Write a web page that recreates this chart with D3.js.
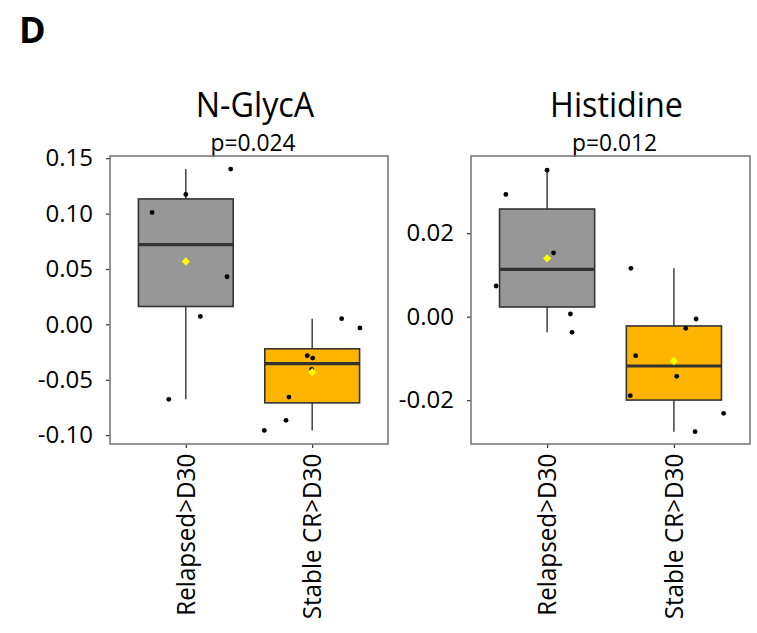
<!DOCTYPE html>
<html>
<head>
<meta charset="utf-8">
<script src="https://cdn.jsdelivr.net/npm/d3@7"></script>
<style>
  html, body { margin: 0; padding: 0; background: #fff; }
  svg { display: block; font-family: "Open Sans", "Noto Sans", sans-serif; }
</style>
</head>
<body>
<svg id="chart" width="757" height="633"></svg>
<script>
// Groups on the x axis
const groups = ["Relapsed>D30", "Stable CR>D30"];
const groupColors = ["#979797", "#FFB400"];

// N-GlycA values per group, with horizontal jitter (in category units)
const nglycaRelapsed = [0.1011, 0.1173, 0.1402, 0.0430, 0.0072, -0.0677];
const nglycaRelapsedJitter = [-0.267, 0.000, 0.355, 0.326, 0.115, -0.135];
const nglycaStable = [0.0051, -0.0033, -0.0283, -0.0304, -0.0406, -0.0656, -0.0866, -0.0957];
const nglycaStableJitter = [0.233, 0.378, -0.039, 0.004, -0.004, -0.184, -0.207, -0.379];

// Histidine values per group, with horizontal jitter
const histRelapsed = [0.0351, 0.0293, 0.0153, 0.00735, 0.00065, -0.00374];
const histRelapsedJitter = [0.000, -0.325, 0.051, -0.402, 0.184, 0.197];
const histStable = [0.01159, -0.00055, -0.00278, -0.00934, -0.01428, -0.01892, -0.02314, -0.02754];
const histStableJitter = [-0.339, 0.175, 0.093, -0.302, 0.022, -0.344, 0.392, 0.167];

// Axis ticks
const nglycaTicks = [0.15, 0.10, 0.05, 0.00, -0.05, -0.10];
const histTicks = [0.02, 0.00, -0.02];

// Panel titles and test results
const titles = ["N-GlycA", "Histidine"];
const pLabels = ["p=0.024", "p=0.012"];

const panels = [
  { title: titles[0], p: pLabels[0], x0: 110, x1: 388, domain: [-0.108, 0.152], ticks: nglycaTicks,
    series: [[nglycaRelapsed, nglycaRelapsedJitter], [nglycaStable, nglycaStableJitter]] },
  { title: titles[1], p: pLabels[1], x0: 471, x1: 750, domain: [-0.0305, 0.0385], ticks: histTicks,
    series: [[histRelapsed, histRelapsedJitter], [histStable, histStableJitter]] }
];

const svg = d3.select("#chart");
const panelTop = 156, panelBottom = 444;
const ink = "#333333";

svg.append("text")
  .attr("x", 19).attr("y", 43)
  .attr("font-size", 36).attr("font-weight", 700)
  .attr("fill", "#000")
  .text("D");

function boxStats(values) {
  const s = values.slice().sort(d3.ascending);
  const q1 = d3.quantile(s, 0.25), med = d3.quantile(s, 0.5), q3 = d3.quantile(s, 0.75);
  const iqr = q3 - q1;
  const lo = d3.min(s.filter(v => v >= q1 - 1.5 * iqr));
  const hi = d3.max(s.filter(v => v <= q3 + 1.5 * iqr));
  return { q1, med, q3, lo, hi, mean: d3.mean(s) };
}

panels.forEach(panel => {
  const g = svg.append("g");
  // Discrete x positions 1 and 2 with 0.6 expansion on each side
  const x = d3.scaleLinear().domain([0.4, 2.6]).range([panel.x0, panel.x1]);
  const y = d3.scaleLinear().domain(panel.domain).range([panelBottom, panelTop]);
  const unit = x(2) - x(1);
  const halfBox = 0.375 * unit;

  // Title and p-value
  const cx = (panel.x0 + panel.x1) / 2 + 6;
  g.append("text")
    .attr("transform", `translate(${cx},117) scale(0.95,1)`)
    .attr("text-anchor", "middle").attr("font-size", 34).attr("fill", "#000")
    .text(panel.title);
  g.append("text")
    .attr("transform", `translate(${cx - 2},151) scale(0.95,1)`)
    .attr("text-anchor", "middle").attr("font-size", 24).attr("fill", "#000")
    .text(panel.p);

  // Y axis
  const yAxis = d3.axisLeft(y).tickValues(panel.ticks).tickSize(4).tickPadding(13);
  const ya = g.append("g").attr("transform", `translate(${panel.x0},0)`).call(yAxis);
  ya.select(".domain").remove();
  ya.selectAll(".tick line").attr("stroke", ink).attr("stroke-width", 1.2);
  ya.selectAll(".tick text").attr("font-size", 24).attr("fill", "#000")
    .attr("font-family", "\"Open Sans\", sans-serif")
    .text(d => d3.format(".2f")(d).replace("\u2212", "-"));

  // X axis with rotated group labels
  const xAxis = d3.axisBottom(x).tickValues([1, 2]).tickFormat(i => groups[i - 1]).tickSize(4).tickPadding(6);
  const xa = g.append("g").attr("transform", `translate(0,${panelBottom})`).call(xAxis);
  xa.select(".domain").remove();
  xa.selectAll(".tick line").attr("stroke", ink).attr("stroke-width", 1.2);
  xa.selectAll(".tick text").attr("font-size", 25).attr("fill", "#000")
    .attr("font-family", "\"Open Sans\", sans-serif")
    .attr("transform", "rotate(-90) scale(0.97,1)")
    .attr("text-anchor", "end")
    .attr("dy", "0.35em")
    .attr("x", -10).attr("y", 0);

  // Boxes, whiskers, points and means
  panel.series.forEach(([vals, jit], i) => {
    const c = x(i + 1);
    const st = boxStats(vals);
    g.append("line").attr("x1", c).attr("x2", c).attr("y1", y(st.hi)).attr("y2", y(st.q3))
      .attr("stroke", ink).attr("stroke-width", 1.4);
    g.append("line").attr("x1", c).attr("x2", c).attr("y1", y(st.q1)).attr("y2", y(st.lo))
      .attr("stroke", ink).attr("stroke-width", 1.4);
    g.append("rect").attr("x", c - halfBox).attr("y", y(st.q3))
      .attr("width", 2 * halfBox).attr("height", y(st.q1) - y(st.q3))
      .attr("fill", groupColors[i]).attr("stroke", ink).attr("stroke-width", 1.6);
    g.append("line").attr("x1", c - halfBox).attr("x2", c + halfBox)
      .attr("y1", y(st.med)).attr("y2", y(st.med))
      .attr("stroke", ink).attr("stroke-width", 3.2);
    g.selectAll(null).data(vals).join("circle")
      .attr("cx", (v, k) => x(i + 1 + jit[k]))
      .attr("cy", v => y(v))
      .attr("r", 2.4).attr("fill", "#000");
    g.append("path")
      .attr("d", d3.symbol().type(d3.symbolDiamond2).size(44)())
      .attr("transform", `translate(${c},${y(st.mean)})`)
      .attr("fill", "#FFFF00");
  });

  // Panel border
  g.append("rect").attr("x", panel.x0).attr("y", panelTop)
    .attr("width", panel.x1 - panel.x0).attr("height", panelBottom - panelTop)
    .attr("fill", "none").attr("stroke", "#7a7a7a").attr("stroke-width", 1.6);
});
</script>
</body>
</html>
